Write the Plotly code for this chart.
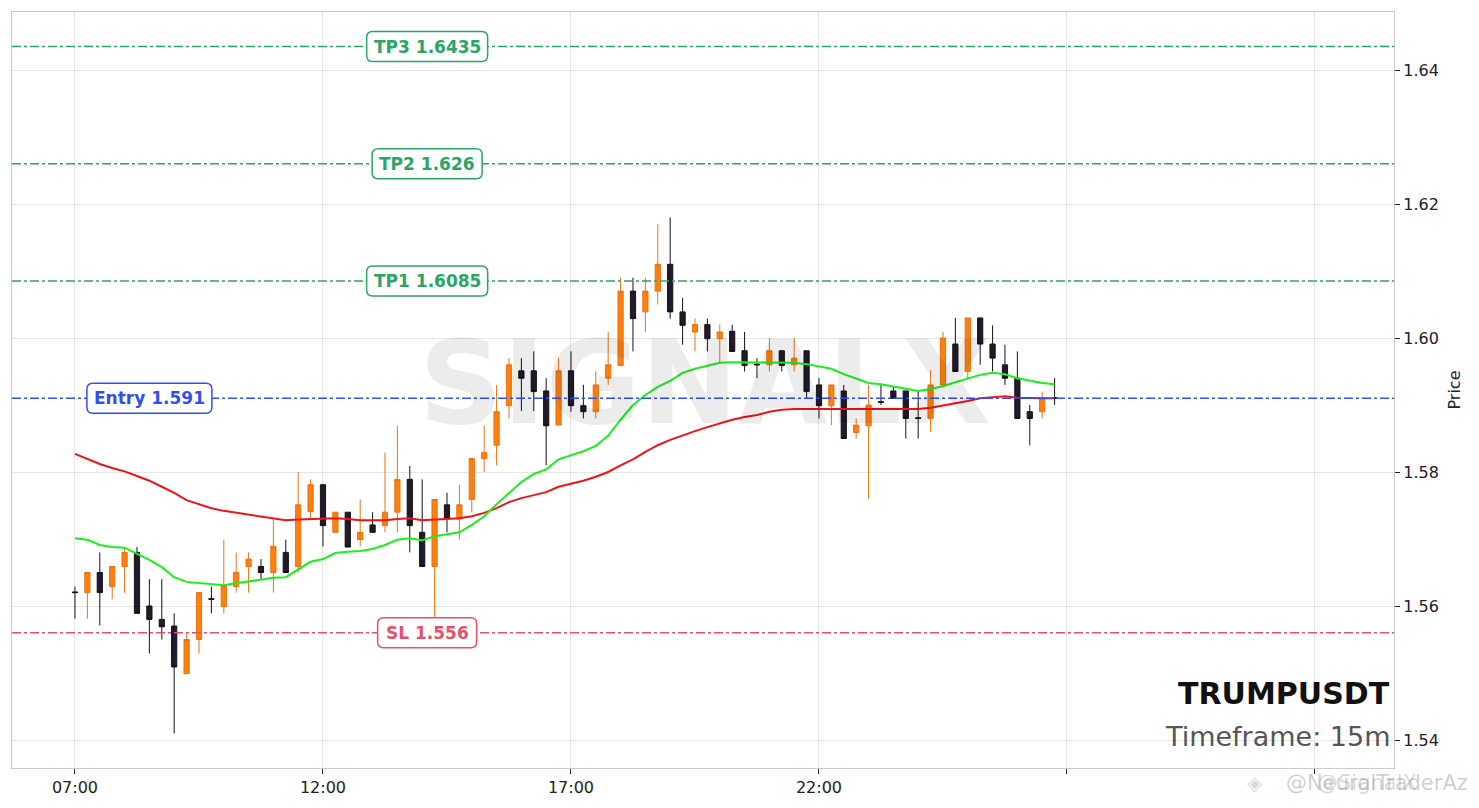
import pandas as pd
import plotly.graph_objects as go

# ---------------- data ----------------
start_time = "2025-01-20 07:00"
n_candles = 80

opens = [1.5621, 1.5620, 1.5650, 1.5629, 1.5659, 1.5680, 1.5600, 1.5580, 1.5570, 1.5499,
         1.5550, 1.5611, 1.5599, 1.5629, 1.5659, 1.5659, 1.5650, 1.5680, 1.5659, 1.5741,
         1.5781, 1.5710, 1.5740, 1.5699, 1.5721, 1.5720, 1.5740, 1.5789, 1.5710, 1.5659,
         1.5751, 1.5730, 1.5759, 1.5820, 1.5840, 1.5899, 1.5951, 1.5951, 1.5921, 1.5870,
         1.5951, 1.5899, 1.5890, 1.5940, 1.5959, 1.6070, 1.6039, 1.6070, 1.6110, 1.6039,
         1.6009, 1.6020, 1.5999, 1.6010, 1.5981, 1.5961, 1.5960, 1.5981, 1.5960, 1.5981,
         1.5930, 1.5899, 1.5921, 1.5859, 1.5869, 1.5905, 1.5921, 1.5921, 1.5881, 1.5880,
         1.5930, 1.5991, 1.5950, 1.6030, 1.5991, 1.5960, 1.5940, 1.5890, 1.5890, 1.5911]
highs = [1.5629, 1.5650, 1.5680, 1.5659, 1.5688, 1.5688, 1.5640, 1.5640, 1.5589, 1.5559,
         1.5620, 1.5629, 1.5699, 1.5680, 1.5680, 1.5670, 1.5730, 1.5699, 1.5800, 1.5789,
         1.5781, 1.5740, 1.5740, 1.5759, 1.5740, 1.5829, 1.5869, 1.5809, 1.5789, 1.5759,
         1.5769, 1.5781, 1.5820, 1.5869, 1.5930, 1.5970, 1.5970, 1.5980, 1.5940, 1.5970,
         1.5980, 1.5930, 1.5950, 1.6009, 1.6090, 1.6090, 1.6090, 1.6170, 1.6180, 1.6060,
         1.6029, 1.6029, 1.6020, 1.6020, 1.6009, 1.5970, 1.6000, 1.5981, 1.6000, 1.5981,
         1.5940, 1.5930, 1.5930, 1.5880, 1.5930, 1.5930, 1.5927, 1.5921, 1.5921, 1.5952,
         1.6009, 1.6030, 1.6030, 1.6030, 1.6019, 1.5990, 1.5980, 1.5900, 1.5920, 1.5940]
lows = [1.5581, 1.5581, 1.5571, 1.5610, 1.5620, 1.5589, 1.5529, 1.5550, 1.5410, 1.5499,
        1.5529, 1.5589, 1.5589, 1.5620, 1.5620, 1.5640, 1.5620, 1.5650, 1.5650, 1.5731,
        1.5689, 1.5710, 1.5688, 1.5689, 1.5710, 1.5710, 1.5710, 1.5680, 1.5659, 1.5584,
        1.5710, 1.5699, 1.5740, 1.5800, 1.5810, 1.5880, 1.5891, 1.5891, 1.5810, 1.5870,
        1.5890, 1.5880, 1.5880, 1.5930, 1.5959, 1.5980, 1.6009, 1.6050, 1.6029, 1.5990,
        1.5980, 1.5980, 1.5962, 1.5980, 1.5950, 1.5940, 1.5950, 1.5950, 1.5950, 1.5910,
        1.5880, 1.5870, 1.5850, 1.5850, 1.5760, 1.5900, 1.5910, 1.5850, 1.5850, 1.5860,
        1.5930, 1.5950, 1.5940, 1.5960, 1.5950, 1.5930, 1.5880, 1.5840, 1.5880, 1.5900]
closes = [1.5620, 1.5650, 1.5620, 1.5659, 1.5680, 1.5589, 1.5580, 1.5569, 1.5509, 1.5550,
          1.5620, 1.5610, 1.5630, 1.5650, 1.5670, 1.5650, 1.5689, 1.5650, 1.5751, 1.5781,
          1.5720, 1.5740, 1.5688, 1.5710, 1.5710, 1.5740, 1.5789, 1.5720, 1.5659, 1.5759,
          1.5730, 1.5751, 1.5820, 1.5829, 1.5890, 1.5960, 1.5940, 1.5920, 1.5869, 1.5951,
          1.5899, 1.5890, 1.5930, 1.5960, 1.6070, 1.6029, 1.6070, 1.6110, 1.6039, 1.6019,
          1.6020, 1.5999, 1.6009, 1.5980, 1.5959, 1.5960, 1.5981, 1.5959, 1.5970, 1.5920,
          1.5899, 1.5930, 1.5850, 1.5870, 1.5900, 1.5904, 1.5910, 1.5880, 1.5880, 1.5930,
          1.6000, 1.5950, 1.6030, 1.5991, 1.5970, 1.5940, 1.5880, 1.5880, 1.5910, 1.5910]

ema_fast = [1.5701, 1.5699, 1.5691, 1.5688, 1.5687, 1.5678, 1.5669, 1.5658, 1.5643, 1.5636,
            1.5634, 1.5633, 1.5631, 1.5634, 1.5637, 1.5640, 1.5642, 1.5643, 1.5654, 1.5666,
            1.5670, 1.5679, 1.5681, 1.5682, 1.5685, 1.5691, 1.5699, 1.5701, 1.5698, 1.5704,
            1.5707, 1.5710, 1.5721, 1.5734, 1.5752, 1.5769, 1.5785, 1.5797, 1.5804, 1.5819,
            1.5825, 1.5831, 1.5839, 1.5854, 1.5878, 1.5900, 1.5915, 1.5927, 1.5936, 1.5948,
            1.5954, 1.5958, 1.5963, 1.5964, 1.5964, 1.5964, 1.5964, 1.5964, 1.5963, 1.5961,
            1.5957, 1.5954, 1.5946, 1.5939, 1.5933, 1.5931, 1.5928, 1.5925, 1.5921, 1.5924,
            1.5928, 1.5934, 1.5940, 1.5945, 1.5948, 1.5946, 1.5940, 1.5936, 1.5933, 1.5931]
ema_slow = [1.5827, 1.5819, 1.5812, 1.5806, 1.5801, 1.5794, 1.5787, 1.5778, 1.5769, 1.5758,
            1.5752, 1.5746, 1.5742, 1.5739, 1.5736, 1.5733, 1.5731, 1.5728, 1.5729, 1.5730,
            1.5731, 1.5731, 1.5730, 1.5728, 1.5728, 1.5728, 1.5730, 1.5731, 1.5728, 1.5729,
            1.5730, 1.5731, 1.5734, 1.5739, 1.5746, 1.5755, 1.5761, 1.5766, 1.5770, 1.5778,
            1.5782, 1.5787, 1.5793, 1.5800, 1.5810, 1.5819, 1.5830, 1.5840, 1.5848, 1.5855,
            1.5861, 1.5867, 1.5873, 1.5878, 1.5882, 1.5885, 1.5890, 1.5893, 1.5894, 1.5894,
            1.5894, 1.5894, 1.5894, 1.5893, 1.5893, 1.5893, 1.5894, 1.5894, 1.5894, 1.5896,
            1.5899, 1.5903, 1.5906, 1.5910, 1.5912, 1.5913, 1.5911, 1.5910, 1.5910, 1.5910]

level_names = ["TP3", "TP2", "TP1", "Entry", "SL"]
level_values = [1.6435, 1.626, 1.6085, 1.591, 1.556]
level_text = ["TP3 1.6435", "TP2 1.626", "TP1 1.6085", "Entry 1.591", "SL 1.556"]
level_colors = ["#2aa664", "#2aa664", "#2aa664", "#2f4ef5", "#e8506a"]
level_label_x = ["2025-01-20 14:06", "2025-01-20 14:06", "2025-01-20 14:06",
                 "2025-01-20 08:30", "2025-01-20 14:06"]
label_box_w = [121, 110, 121, 125, 99]   # pixel width of each rounded label box (style)

tick_vals = ["2025-01-20 07:00", "2025-01-20 12:00", "2025-01-20 17:00",
             "2025-01-20 22:00", "2025-01-21 03:00", "2025-01-21 08:00"]
tick_text = ["07:00", "12:00", "17:00", "22:00", "", ""]
y_ticks = [1.54, 1.56, 1.58, 1.60, 1.62, 1.64]
y_tick_text = ["1.54", "1.56", "1.58", "1.60", "1.62", "1.64"]

symbol = "TRUMPUSDT"
timeframe = "Timeframe: 15m"

# ---------------- figure ----------------
times = pd.date_range(start_time, periods=n_candles, freq="15min")
FONT = "DejaVu Sans"


def rounded_box(w, h, r):
    a, b = w / 2.0, h / 2.0
    return ("M %g,%g L %g,%g Q %g,%g %g,%g L %g,%g Q %g,%g %g,%g "
            "L %g,%g Q %g,%g %g,%g L %g,%g Q %g,%g %g,%g Z" % (
                -a + r, -b, a - r, -b, a, -b, a, -b + r, a, b - r, a, b, a - r, b,
                -a + r, b, -a, b, -a, b - r, -a, -b + r, -a, -b, -a + r, -b))


fig = go.Figure()
fig.add_trace(go.Candlestick(
    x=times, open=opens, high=highs, low=lows, close=closes,
    increasing=dict(line=dict(color="#ec7410", width=1), fillcolor="#ff7f0e"),
    decreasing=dict(line=dict(color="#141018", width=1), fillcolor="#221a2c"),
    whiskerwidth=0, showlegend=False, name=symbol))
fig.add_trace(go.Scatter(x=times, y=ema_slow, mode="lines",
                         line=dict(color="#f01414", width=2), showlegend=False))
fig.add_trace(go.Scatter(x=times, y=ema_fast, mode="lines",
                         line=dict(color="#1af01a", width=2), showlegend=False))

shapes = []
annotations = []
for val, col in zip(level_values, level_colors):
    shapes.append(dict(type="line", xref="paper", x0=0, x1=1, yref="y", y0=val, y1=val,
                       line=dict(color=col, width=1.5, dash="dashdot"), layer="above"))
for txt, val, col, lx, bw in zip(level_text, level_values, level_colors, level_label_x, label_box_w):
    shapes.append(dict(type="path", xref="x", yref="y", xsizemode="pixel", ysizemode="pixel",
                       xanchor=lx, yanchor=val, path=rounded_box(bw, 30, 6),
                       fillcolor="white", line=dict(color=col, width=1.5), layer="above"))
    annotations.append(dict(x=lx, y=val, xref="x", yref="y", text="<b>%s</b>" % txt,
                            showarrow=False, font=dict(family=FONT, size=17, color=col),
                            xanchor="center", yanchor="middle"))

annotations.append(dict(x=0.5014, y=0.51, xref="paper", yref="paper", text="<b>SIGNALX</b>",
                        showarrow=False, font=dict(family=FONT, size=116, color="rgba(0,0,0,0.075)"),
                        xanchor="center", yanchor="middle"))
annotations.append(dict(x=0.9985, y=0.099, xref="paper", yref="paper", text="<b>%s</b>" % symbol,
                        showarrow=False, font=dict(family=FONT, size=30, color="#111111"),
                        xanchor="right", yanchor="middle"))
annotations.append(dict(x=0.9985, y=0.042, xref="paper", yref="paper", text=timeframe,
                        showarrow=False, font=dict(family=FONT, size=27, color="#555555"),
                        xanchor="right", yanchor="middle"))
annotations.append(dict(x=0.907, y=-0.02, xref="paper", yref="paper", text="◈",
                        showarrow=False, font=dict(family=FONT, size=20, color="rgba(150,150,150,0.35)"),
                        xanchor="right", yanchor="middle"))
annotations.append(dict(x=1.055, y=-0.02, xref="paper", yref="paper", text="@NeuralTraderAz",
                        showarrow=False, font=dict(family=FONT, size=21, color="rgba(150,150,150,0.45)"),
                        xanchor="right", yanchor="middle"))
annotations.append(dict(x=1.018, y=-0.02, xref="paper", yref="paper", text="@SignalX",
                        showarrow=False, font=dict(family=FONT, size=21, color="rgba(150,150,150,0.35)"),
                        xanchor="right", yanchor="middle"))

fig.update_layout(
    width=1479, height=808,
    margin=dict(l=4, r=93, t=4, b=48),
    paper_bgcolor="white", plot_bgcolor="white",
    font=dict(family=FONT, size=16, color="#222222"),
    shapes=shapes, annotations=annotations,
    boxgap=0.4,
    xaxis=dict(type="date", range=["2025-01-20 05:43:48", "2025-01-21 09:35:36"],
               tickmode="array", tickvals=tick_vals, ticktext=tick_text,
               showgrid=True, gridcolor="#e6e6e6", gridwidth=1,
               showline=True, linecolor="#cccccc", linewidth=1.2, mirror=True,
               ticks="outside", ticklen=5, tickcolor="#222222",
               rangeslider=dict(visible=False), zeroline=False,
               tickfont=dict(family=FONT, size=16, color="#222222")),
    yaxis=dict(side="right", range=[1.53582, 1.64866],
               tickmode="array", tickvals=y_ticks, ticktext=y_tick_text,
               showgrid=True, gridcolor="#e6e6e6", gridwidth=1,
               showline=True, linecolor="#cccccc", linewidth=1.2, mirror=True,
               ticks="outside", ticklen=5, tickcolor="#222222", zeroline=False,
               tickfont=dict(family=FONT, size=16, color="#222222"),
               title=dict(text="Price", standoff=10, font=dict(family=FONT, size=16, color="#222222"))),
)

fig.write_html("out.html")
